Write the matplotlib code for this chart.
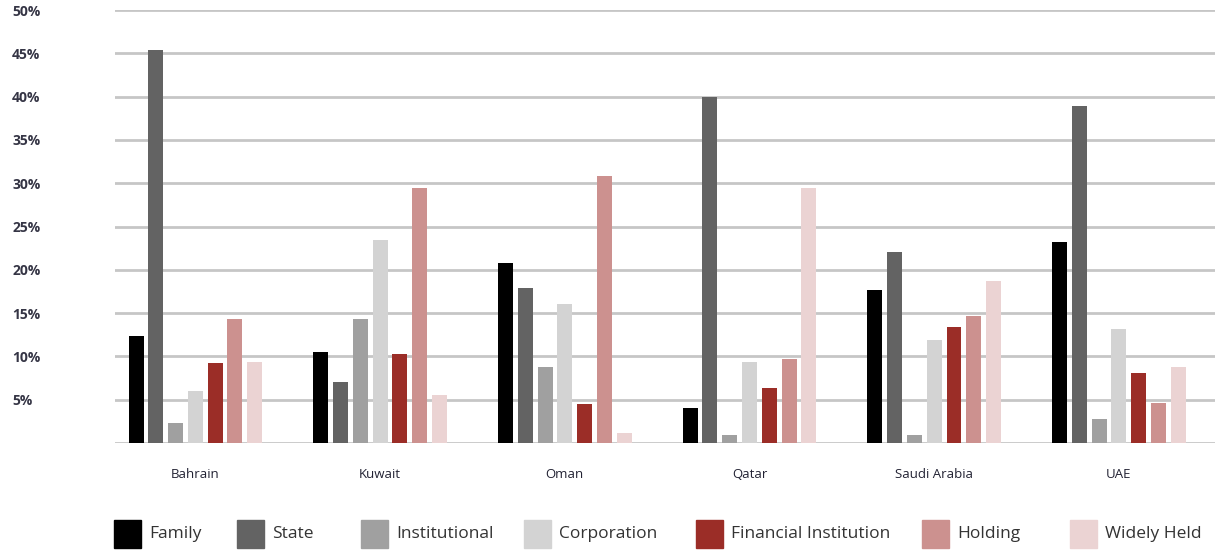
import numpy as np
import matplotlib.pyplot as plt
from matplotlib.patches import Rectangle

# ownership share by country (%)
countries = ["Bahrain", "Kuwait", "Oman", "Qatar", "Saudi Arabia", "UAE"]
owner_types = ["Family", "State", "Institutional", "Corporation",
               "Financial Institution", "Holding", "Widely Held"]

family = [12.3, 10.5, 20.8, 4.0, 17.7, 23.2]
state = [45.4, 7.1, 17.9, 40.0, 22.1, 38.9]
institutional = [2.3, 14.3, 8.8, 0.9, 0.9, 2.8]
corporation = [6.0, 23.4, 16.0, 9.4, 11.9, 13.2]
financial = [9.2, 10.3, 4.5, 6.4, 13.4, 8.1]
holding = [14.3, 29.5, 30.8, 9.7, 14.7, 4.6]
widely_held = [9.4, 5.5, 1.1, 29.5, 18.7, 8.8]

series = [family, state, institutional, corporation, financial, holding, widely_held]
colors = ["#000000", "#636363", "#a0a0a0", "#d3d3d3", "#9b2d27", "#cc918f", "#ebd3d3"]

W, H = 1215, 551
fig = plt.figure(figsize=(W / 100, H / 100), dpi=100)
ax = fig.add_axes([115 / W, 108 / H, 1 - 115 / W, (541 - 108) / H])

x = np.arange(len(countries))
step = 0.107
width = 0.081
for k, (vals, col) in enumerate(zip(series, colors)):
    ax.bar(x + (k - 3) * step, vals, width, color=col, zorder=3)

ax.set_xlim(-0.435, 5.52)
ax.set_ylim(0, 50)

yt = np.arange(0, 55, 5)
ax.set_yticks(yt)
ax.set_yticklabels([""] + [f"{v}%" for v in yt[1:]])
ax.yaxis.grid(True, color="#c6c6c6", linewidth=2, zorder=0)
ax.tick_params(axis="y", length=0, pad=74)
for lbl in ax.get_yticklabels():
    lbl.set_horizontalalignment("left")
    lbl.set_fontsize(10)
    lbl.set_fontweight("bold")
    lbl.set_color("#353545")
    lbl.set_fontfamily("Open Sans")

ax.set_xticks(x)
ax.set_xticklabels(countries, fontsize=9.5, color="#222233", fontfamily="Open Sans")
ax.tick_params(axis="x", length=0, pad=18)

for s in ax.spines.values():
    s.set_visible(False)

# legend laid out along the bottom edge
legend_x = [114, 237, 361, 524, 696, 922, 1070]
for lx, name, col in zip(legend_x, owner_types, colors):
    fig.patches.append(Rectangle((lx / W, 3 / H), 27 / W, 28 / H,
                                 transform=fig.transFigure, color=col))
    fig.text((lx + 35) / W, 17 / H, name, fontsize=12.5, color="#333333",
             fontfamily="Open Sans", va="center", ha="left")

fig.savefig("out.png", dpi=100)
